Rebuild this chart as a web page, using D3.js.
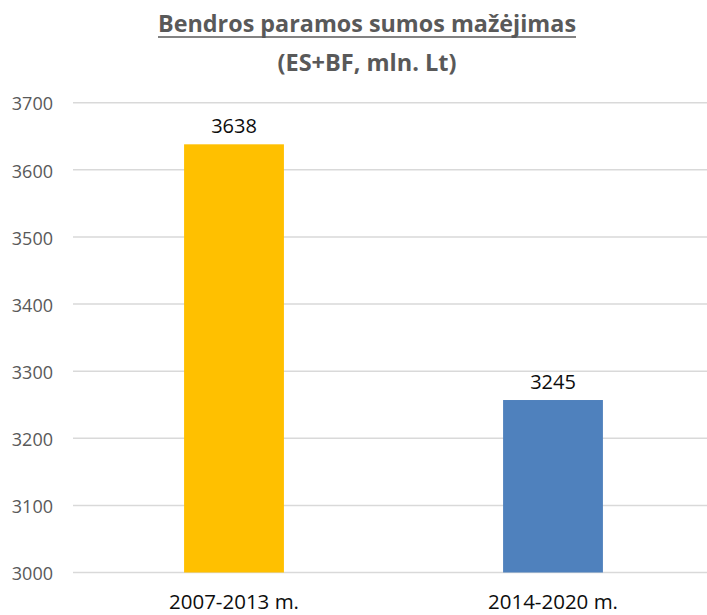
<!DOCTYPE html>
<html>
<head>
<meta charset="utf-8">
<script src="https://cdn.jsdelivr.net/npm/d3@7"></script>
<style>
body { margin: 0; background: #fff; }
svg { display: block; font-family: 'Open Sans', sans-serif; }
</style>
</head>
<body>
<svg id="chart" width="707" height="615"></svg>
<script>
// data
var categories = ['2007-2013 m.', '2014-2020 m.'];
var barValues = [3638, 3257];      // bar heights as drawn
var barLabels = ['3638', '3245'];  // labels as printed
var barColors = ['#ffc000', '#4f81bd'];
var yTicks = [3000, 3100, 3200, 3300, 3400, 3500, 3600, 3700];

var svg = d3.select('#chart');

var x = d3.scaleBand()
	.domain(categories)
	.range([74.5, 712.5])
	.paddingInner(0.687)
	.paddingOuter(0.3435);

var y = d3.scaleLinear()
	.domain([3000, 3700])
	.range([572.5, 102.7]);

// gridlines
svg.append('g')
	.selectAll('line')
	.data(yTicks)
	.join('line')
	.attr('x1', 73)
	.attr('x2', 707)
	.attr('y1', function(d){ return y(d); })
	.attr('y2', function(d){ return y(d); })
	.attr('stroke', '#d9d9d9')
	.attr('stroke-width', 1.5);

// y axis labels
var yAxis = d3.axisLeft(y).tickValues(yTicks).tickFormat(d3.format('d')).tickSize(0).tickPadding(0);
var ya = svg.append('g')
	.attr('transform', 'translate(53,0)')
	.call(yAxis);
ya.select('.domain').remove();
ya.selectAll('text')
	.attr('fill', '#595959')
	.attr('font-size', '18px')
	.attr('dy', '0.4em')
	.attr('font-family', "'Open Sans', sans-serif");

// bars
svg.append('g')
	.selectAll('rect')
	.data(barValues)
	.join('rect')
	.attr('x', function(d, i){ return x(categories[i]); })
	.attr('width', x.bandwidth())
	.attr('y', function(d){ return y(d); })
	.attr('height', function(d){ return y(3000) - y(d); })
	.attr('fill', function(d, i){ return barColors[i]; });

// value labels
svg.append('g')
	.selectAll('text')
	.data(barValues)
	.join('text')
	.attr('x', function(d, i){ return x(categories[i]) + x.bandwidth() / 2; })
	.attr('y', function(d){ return y(d) - 11; })
	.attr('text-anchor', 'middle')
	.attr('font-size', '20px')
	.attr('fill', '#0d0d0d')
	.text(function(d, i){ return barLabels[i]; });

// category labels
var xAxis = d3.axisBottom(x).tickSize(0).tickPadding(0);
var xa = svg.append('g')
	.attr('transform', 'translate(0,609)')
	.call(xAxis);
xa.select('.domain').remove();
xa.selectAll('text')
	.attr('dy', 0)
	.attr('fill', '#0d0d0d')
	.attr('font-size', '20px')
	.attr('font-family', "'Open Sans', sans-serif")
	.attr('textLength', 130)
	.attr('lengthAdjust', 'spacingAndGlyphs');

// title
svg.append('text')
	.attr('x', 367)
	.attr('y', 32)
	.attr('text-anchor', 'middle')
	.attr('font-size', '23px')
	.attr('font-weight', 'bold')
	.attr('fill', '#595959')
	.attr('textLength', 418)
	.attr('lengthAdjust', 'spacingAndGlyphs')
	.text('Bendros paramos sumos mažėjimas');
svg.append('line')
	.attr('x1', 158)
	.attr('x2', 576)
	.attr('y1', 37)
	.attr('y2', 37)
	.attr('stroke', '#595959')
	.attr('stroke-width', 1.5);
svg.append('text')
	.attr('x', 367)
	.attr('y', 71)
	.attr('text-anchor', 'middle')
	.attr('font-size', '23px')
	.attr('font-weight', 'bold')
	.attr('fill', '#595959')
	.attr('textLength', 179)
	.attr('lengthAdjust', 'spacingAndGlyphs')
	.text('(ES+BF, mln. Lt)');
</script>
</body>
</html>
